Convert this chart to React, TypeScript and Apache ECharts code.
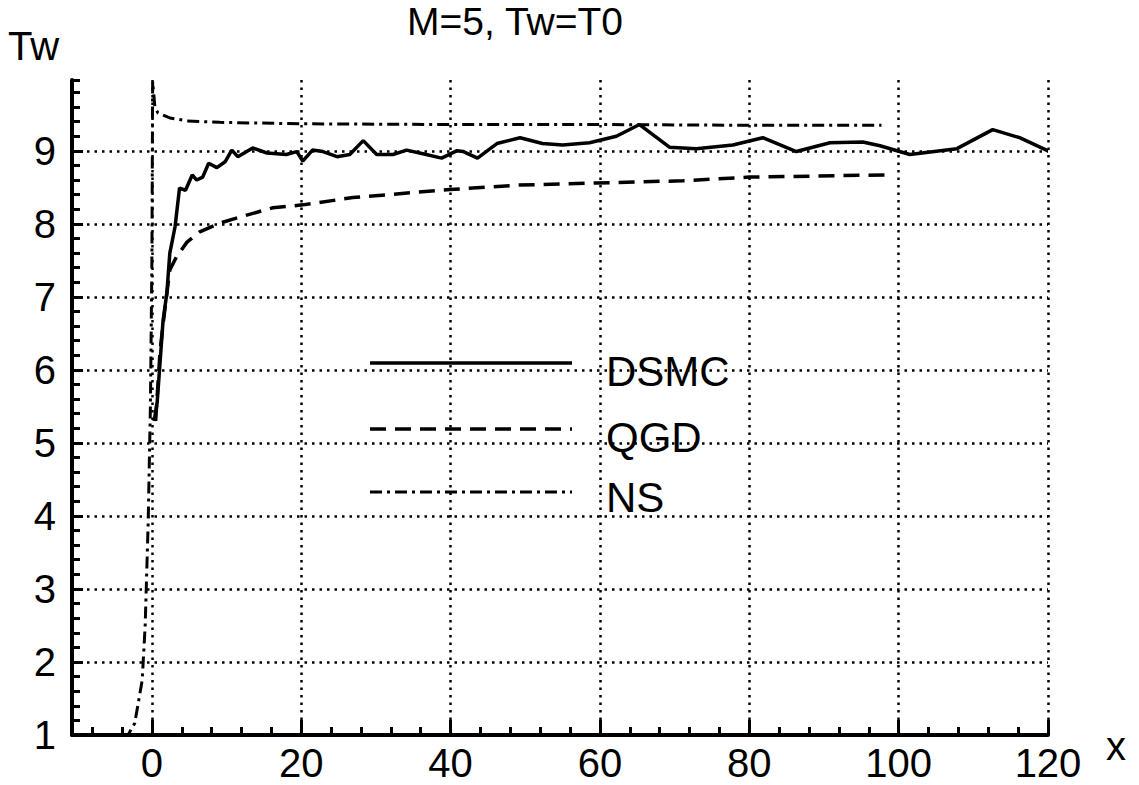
import React, { useEffect, useRef } from "react";
import * as echarts from "echarts";

const FONT = "'Liberation Sans', Arial, Helvetica, sans-serif";

// DSMC (solid)
const dsmcX = [0.3, 0.7, 1.5, 2.0, 2.4, 3.1, 3.7, 4.5, 5.4, 6.0, 6.8, 7.6, 8.7, 9.8, 10.7, 11.5, 13.5, 15.4, 18, 19.4, 20.2, 21.5, 22.9, 24.8, 26.5, 28.3, 30.1, 32.3, 34.1, 36.3, 38.8, 40.8, 41.7, 43.6, 46.2, 49.3, 52.3, 55, 58.6, 62.2, 65.3, 69.3, 72.9, 77.8, 81.8, 86.3, 90.8, 95.2, 97.5, 101.5, 107.8, 112.6, 116.2, 120];
const dsmcY = [5.3, 5.55, 6.68, 7.05, 7.6, 7.96, 8.49, 8.46, 8.67, 8.6, 8.64, 8.83, 8.77, 8.85, 9.01, 8.92, 9.04, 8.97, 8.95, 8.99, 8.86, 9.01, 8.99, 8.92, 8.95, 9.14, 8.95, 8.95, 9.01, 8.96, 8.9, 9.0, 8.99, 8.9, 9.1, 9.18, 9.1, 9.08, 9.11, 9.2, 9.36, 9.05, 9.03, 9.08, 9.18, 8.99, 9.11, 9.12, 9.07, 8.95, 9.03, 9.29, 9.18, 9.0];

// QGD (dashed)
const qgdX = [0.5, 1.1, 1.7, 2.4, 3.3, 4.7, 6.4, 9.1, 12.7, 16.2, 20.2, 26.9, 39.9, 48.9, 59.6, 71.1, 80, 98.4];
const qgdY = [5.3, 6.27, 6.8, 7.37, 7.55, 7.75, 7.89, 8.01, 8.12, 8.22, 8.26, 8.36, 8.47, 8.53, 8.56, 8.59, 8.64, 8.67];

// NS (dash-dot)
const nsX = [-10.7, -3.2, -2.3, -1.3, -0.9, -0.5, -0.2, 0, 0.1, 0.4, 0.8, 2.4, 4.7, 9.1, 20, 40, 60, 80, 97.7];
const nsY = [1, 1, 1.16, 1.75, 2.5, 3.9, 5.5, 7.5, 9.95, 9.6, 9.52, 9.45, 9.41, 9.39, 9.37, 9.36, 9.36, 9.35, 9.35];

const seriesNames = ["DSMC", "QGD", "NS"];
const titleText = "M=5, Tw=T0";
const yAxisTitle = "Tw";
const xAxisTitle = "x";

const X_MIN = -10.7;
const X_MAX = 120;
const Y_MIN = 1;
const Y_MAX = 9.97;

const zip = (xs: number[], ys: number[]) => xs.map((x, i) => [x, ys[i]]);

const DASH_QGD = [16, 9];
const DASH_NS = [12, 5, 3, 5];

export default function App() {
  const ref = useRef<HTMLDivElement>(null);
  useEffect(() => {
    if (!ref.current) return;
    const chart = echarts.init(ref.current, undefined, { renderer: "svg" });
    const gridLine = { type: [2.5, 5] as any, color: "#000", width: 2.5 };
    const option: any = {
      animation: false,
      backgroundColor: "#fff",
      textStyle: { fontFamily: FONT },
      title: {
        text: titleText,
        left: 510,
        top: -3,
        textAlign: "center",
        textStyle: { fontFamily: FONT, fontSize: 39, fontWeight: "normal", color: "#000" },
      },
      grid: { left: 72, right: 91, top: 80, bottom: 50, containLabel: false },
      xAxis: [
        {
          type: "value",
          min: X_MIN,
          max: X_MAX,
          minInterval: 20,
          maxInterval: 20,
          position: "bottom",
          axisLine: { show: true, onZero: false, lineStyle: { color: "#000", width: 4 } },
          axisTick: { show: true, inside: true, length: 15, lineStyle: { color: "#000", width: 3 } },
          axisLabel: { show: true, showMinLabel: false, fontSize: 40, color: "#000", margin: 8, fontFamily: FONT },
          splitLine: { show: true, showMinLine: false, lineStyle: gridLine },
        },
        {
          type: "value",
          min: X_MIN,
          max: X_MAX,
          minInterval: 4,
          maxInterval: 4,
          position: "bottom",
          axisLine: { show: false, onZero: false },
          axisTick: { show: true, inside: true, length: 8, lineStyle: { color: "#000", width: 3 } },
          axisLabel: { show: false },
          splitLine: { show: false },
        },
      ],
      yAxis: [
        {
          type: "value",
          min: Y_MIN,
          max: Y_MAX,
          interval: 1,
          position: "left",
          axisLine: { show: true, onZero: false, lineStyle: { color: "#000", width: 4 } },
          axisTick: { show: true, inside: true, length: 11, lineStyle: { color: "#000", width: 3 } },
          axisLabel: { show: true, showMaxLabel: false, fontSize: 40, color: "#000", margin: 16, fontFamily: FONT },
          splitLine: { show: true, showMinLine: false, showMaxLine: false, lineStyle: gridLine },
        },
        {
          type: "value",
          min: Y_MIN,
          max: Y_MAX,
          interval: 0.2,
          position: "left",
          axisLine: { show: false, onZero: false },
          axisTick: { show: true, inside: true, length: 8, lineStyle: { color: "#000", width: 3 } },
          axisLabel: { show: false },
          splitLine: { show: false },
        },
      ],
      series: [
        {
          name: seriesNames[0],
          type: "line",
          data: zip(dsmcX, dsmcY),
          symbol: "none",
          lineStyle: { color: "#000", width: 3.5 },
          z: 5,
        },
        {
          name: seriesNames[1],
          type: "line",
          data: zip(qgdX, qgdY),
          symbol: "none",
          lineStyle: { color: "#000", width: 3.5, type: DASH_QGD },
          z: 5,
        },
        {
          name: seriesNames[2],
          type: "line",
          data: zip(nsX, nsY),
          symbol: "none",
          lineStyle: { color: "#000", width: 3, type: DASH_NS },
          z: 5,
        },
      ],
      graphic: [
        { type: "text", left: 8, top: 26, style: { text: yAxisTitle, font: `40px ${FONT}`, fill: "#000" } },
        { type: "text", left: 1106, top: 726, style: { text: xAxisTitle, font: `40px ${FONT}`, fill: "#000" } },
        { type: "line", shape: { x1: 370, y1: 363, x2: 572, y2: 363 }, style: { stroke: "#000", lineWidth: 3.5 }, z: 10 },
        { type: "line", shape: { x1: 370, y1: 429, x2: 572, y2: 429 }, style: { stroke: "#000", lineWidth: 3.5, lineDash: DASH_QGD }, z: 10 },
        { type: "line", shape: { x1: 370, y1: 492, x2: 572, y2: 492 }, style: { stroke: "#000", lineWidth: 3, lineDash: DASH_NS }, z: 10 },
        { type: "text", x: 606, y: 371, style: { text: seriesNames[0], font: `42px ${FONT}`, fill: "#000", verticalAlign: "middle" }, z: 10 },
        { type: "text", x: 606, y: 437, style: { text: seriesNames[1], font: `42px ${FONT}`, fill: "#000", verticalAlign: "middle" }, z: 10 },
        { type: "text", x: 606, y: 497, style: { text: seriesNames[2], font: `42px ${FONT}`, fill: "#000", verticalAlign: "middle" }, z: 10 },
      ],
    };
    chart.setOption(option);
    return () => chart.dispose();
  }, []);
  return (
    <div
      ref={ref}
      style={{ position: "fixed", left: 0, top: 0, width: 1139, height: 785, background: "#fff" }}
    />
  );
}
